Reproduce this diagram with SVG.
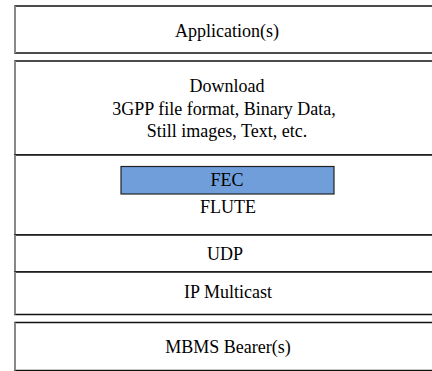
<svg xmlns="http://www.w3.org/2000/svg" width="432" height="371" viewBox="0 0 432 371">
<style>
.box{fill:#fff;stroke:#111;stroke-width:1.5}
.edge{stroke:#888;stroke-width:2}
.t{font-family:"Liberation Serif","Times New Roman",serif;font-size:18px;fill:#000;text-anchor:middle}
.fec{fill:#6f9edb;stroke:#222;stroke-width:1.2}
</style>
<rect width="432" height="371" fill="#fff"/>
<g id="app">
<rect class="box" x="15" y="6" width="430" height="47"/>
<line class="edge" x1="15" y1="6" x2="15" y2="53"/>
<text class="t" x="227" y="37">Application(s)</text>
</g>
<g id="download">
<rect class="box" x="15" y="61" width="430" height="94"/>
<line class="edge" x1="15" y1="61" x2="15" y2="155"/>
<text class="t" x="227" y="91.5">Download</text>
<text class="t" x="224" y="114.5">3GPP file format, Binary Data,</text>
<text class="t" x="227" y="137">Still images, Text, etc.</text>
</g>
<g id="flute">
<rect class="box" x="15" y="155" width="430" height="80"/>
<line class="edge" x1="15" y1="155" x2="15" y2="235"/>
<rect class="fec" x="121" y="166.5" width="213" height="27.5"/>
<text class="t" x="227" y="186">FEC</text>
<text class="t" x="228" y="212.5">FLUTE</text>
</g>
<g id="udp">
<rect class="box" x="15" y="235" width="430" height="37"/>
<line class="edge" x1="15" y1="235" x2="15" y2="272"/>
<text class="t" x="225" y="260">UDP</text>
</g>
<g id="ip">
<rect class="box" x="15" y="272" width="430" height="42.5"/>
<line class="edge" x1="15" y1="272" x2="15" y2="314.5"/>
<text class="t" x="228" y="298">IP Multicast</text>
</g>
<g id="mbms">
<rect class="box" x="15" y="322.5" width="430" height="48"/>
<line class="edge" x1="15" y1="322.5" x2="15" y2="370.5"/>
<text class="t" x="228" y="353">MBMS Bearer(s)</text>
</g>
<g id="connectors"/>
</svg>
